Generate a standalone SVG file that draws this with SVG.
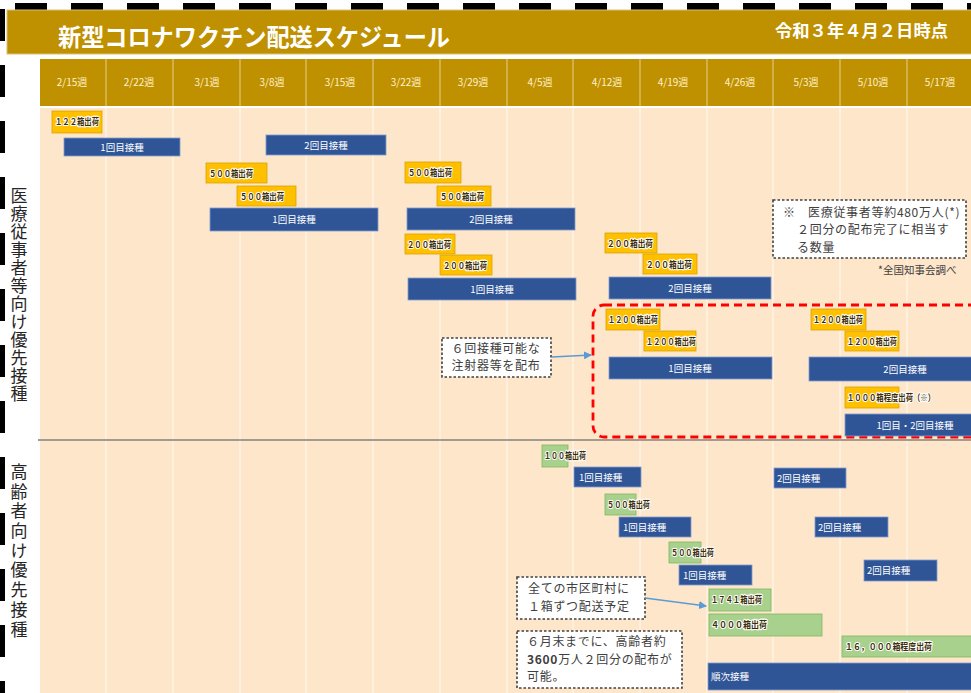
<svg xmlns="http://www.w3.org/2000/svg" width="971" height="693" viewBox="0 0 971 693">
<style>
text{font-family:"Noto Sans CJK JP","Noto Sans",sans-serif}
.b{fill:#2F5597;stroke:#7F9BD0;stroke-width:0.8}
.y{fill:#FFC000;stroke:#D9A400;stroke-width:0.8}
.g{fill:#A9D18E;stroke:#7FB85E;stroke-width:0.8}
.tb{font-size:9.5px;fill:#fff;text-anchor:middle}
.tbl{font-size:9.5px;fill:#fff}
.ty{font-size:9px;font-weight:bold;fill:#3A2C05;stroke:#fff;stroke-width:2.2px;paint-order:stroke;stroke-linejoin:round}
.hd{font-size:10px;fill:#FFF2CC;text-anchor:middle}
.note{fill:#fff;stroke:#404040;stroke-width:1.6;stroke-dasharray:2.5 2}
.nt{font-size:12px;fill:#404040;letter-spacing:0.7px}
.side{font-size:17px;fill:#262626;writing-mode:vertical-rl}
</style>
<defs>
<marker id="arr" markerWidth="8" markerHeight="8" refX="7" refY="4" orient="auto" markerUnits="userSpaceOnUse">
<path d="M0,0 L8,4 L0,8 z" fill="#5B9BD5"/>
</marker>
</defs>
<rect width="971" height="693" fill="#fff"/>
<g id="frame-dashes">
<line x1="15" y1="7" x2="971" y2="7" stroke="#000" stroke-width="8" stroke-dasharray="32 24"/>
<line x1="2.5" y1="9" x2="2.5" y2="693" stroke="#000" stroke-width="5" stroke-dasharray="32 24"/>
</g>
<g id="title">
<rect x="7" y="10" width="970" height="44" fill="#BF9000" stroke="#D9C27A" stroke-width="1"/>
<text x="58" y="46" font-size="24" font-weight="bold" fill="#fff" textLength="392" lengthAdjust="spacingAndGlyphs">新型コロナワクチン配送スケジュール</text>
<text x="775" y="37" font-size="17" font-weight="bold" fill="#fff" textLength="173" lengthAdjust="spacingAndGlyphs">令和３年４月２日時点</text>
</g>
<g id="header">
<rect x="40" y="59" width="931" height="47" fill="#BF9000"/>
<g stroke="#E6D08A" stroke-width="1">
<line x1="106" y1="59" x2="106" y2="106"/><line x1="173" y1="59" x2="173" y2="106"/><line x1="240" y1="59" x2="240" y2="106"/><line x1="306" y1="59" x2="306" y2="106"/><line x1="373" y1="59" x2="373" y2="106"/><line x1="440" y1="59" x2="440" y2="106"/><line x1="507" y1="59" x2="507" y2="106"/><line x1="573" y1="59" x2="573" y2="106"/><line x1="640" y1="59" x2="640" y2="106"/><line x1="707" y1="59" x2="707" y2="106"/><line x1="773" y1="59" x2="773" y2="106"/><line x1="840" y1="59" x2="840" y2="106"/><line x1="907" y1="59" x2="907" y2="106"/>
</g>
<text class="hd" x="72" y="86">2/15週</text><text class="hd" x="139" y="86">2/22週</text><text class="hd" x="207" y="86">3/1週</text><text class="hd" x="272" y="86">3/8週</text><text class="hd" x="340" y="86">3/15週</text><text class="hd" x="406" y="86">3/22週</text><text class="hd" x="473" y="86">3/29週</text><text class="hd" x="540" y="86">4/5週</text><text class="hd" x="607" y="86">4/12週</text><text class="hd" x="673" y="86">4/19週</text><text class="hd" x="740" y="86">4/26週</text><text class="hd" x="806" y="86">5/3週</text><text class="hd" x="873" y="86">5/10週</text><text class="hd" x="940" y="86">5/17週</text>
</g>
<g id="body">
<rect x="40" y="108" width="931" height="585" fill="#FEE6CB"/>
<g stroke="#FFF6EA" stroke-width="1.2">
<line x1="106" y1="108" x2="106" y2="693"/><line x1="173" y1="108" x2="173" y2="693"/><line x1="240" y1="108" x2="240" y2="693"/><line x1="306" y1="108" x2="306" y2="693"/><line x1="373" y1="108" x2="373" y2="693"/><line x1="440" y1="108" x2="440" y2="693"/><line x1="507" y1="108" x2="507" y2="693"/><line x1="573" y1="108" x2="573" y2="693"/><line x1="640" y1="108" x2="640" y2="693"/><line x1="707" y1="108" x2="707" y2="693"/><line x1="773" y1="108" x2="773" y2="693"/><line x1="840" y1="108" x2="840" y2="693"/><line x1="907" y1="108" x2="907" y2="693"/>
</g>
<line x1="38" y1="440" x2="971" y2="440" stroke="#A39A90" stroke-width="2"/>
</g>
<g id="label-medical">
<text class="side" x="19" y="187" letter-spacing="1">医療従事者等向け優先接種</text>
</g>
<g id="label-elderly">
<text class="side" x="19" y="463" letter-spacing="2.7">高齢者向け優先接種</text>
</g>
<g id="m1"><rect class="y" x="52" y="111" width="50" height="22"/><text class="ty" x="55" y="125" textLength="44" lengthAdjust="spacingAndGlyphs">１２２箱出荷</text></g>
<g id="m2"><rect class="b" x="64" y="138" width="116" height="18"/><text class="tb" x="122" y="150.5">1回目接種</text></g>
<g id="m3"><rect class="b" x="266" y="135" width="120" height="20"/><text class="tb" x="326" y="148.5">2回目接種</text></g>
<g id="m4"><rect class="y" x="206" y="163" width="61" height="20"/><text class="ty" x="209" y="176.5" textLength="44" lengthAdjust="spacingAndGlyphs">５００箱出荷</text></g>
<g id="m5"><rect class="y" x="237" y="186" width="59" height="20"/><text class="ty" x="240" y="199.5" textLength="44" lengthAdjust="spacingAndGlyphs">５００箱出荷</text></g>
<g id="m6"><rect class="b" x="210" y="208" width="168" height="23"/><text class="tb" x="294" y="223">1回目接種</text></g>
<g id="m7"><rect class="y" x="405" y="162" width="56" height="21"/><text class="ty" x="408" y="176" textLength="44" lengthAdjust="spacingAndGlyphs">５００箱出荷</text></g>
<g id="m8"><rect class="y" x="437" y="186" width="54" height="20"/><text class="ty" x="440" y="199.5" textLength="44" lengthAdjust="spacingAndGlyphs">５００箱出荷</text></g>
<g id="m9"><rect class="b" x="407" y="208" width="168" height="22"/><text class="tb" x="491" y="222.5">2回目接種</text></g>
<g id="m10"><rect class="y" x="405" y="234" width="50" height="20"/><text class="ty" x="407" y="247.5" textLength="44" lengthAdjust="spacingAndGlyphs">２００箱出荷</text></g>
<g id="m11"><rect class="y" x="440" y="255" width="52" height="20"/><text class="ty" x="443" y="268.5" textLength="44" lengthAdjust="spacingAndGlyphs">２００箱出荷</text></g>
<g id="m12"><rect class="b" x="408" y="278" width="168" height="22"/><text class="tb" x="492" y="292.5">1回目接種</text></g>
<g id="m13"><rect class="y" x="605" y="233" width="52" height="20"/><text class="ty" x="607" y="246.5" textLength="46" lengthAdjust="spacingAndGlyphs">２００箱出荷</text></g>
<g id="m14"><rect class="y" x="643" y="254" width="54" height="20"/><text class="ty" x="646" y="267.5" textLength="46" lengthAdjust="spacingAndGlyphs">２００箱出荷</text></g>
<g id="m15"><rect class="b" x="609" y="277" width="162" height="22"/><text class="tb" x="690" y="291.5">2回目接種</text></g>
<g id="note-480">
<rect class="note" x="773" y="200" width="193" height="58"/>
<text class="nt" x="783" y="216.5">※<tspan x="808">医療従事者等約480万人(*)</tspan><tspan x="797" dy="17.5">２回分の配布完了に相当す</tspan><tspan x="797" dy="17.5">る数量</tspan></text>
</g>
<g id="source"><text x="878" y="274" font-size="10.5" fill="#404040">*全国知事会調べ</text></g>
<g id="redbox"><rect x="593" y="305" width="400" height="132" rx="11" fill="none" stroke="#FF0000" stroke-width="2.8" stroke-dasharray="8 5"/></g>
<g id="r1"><rect class="y" x="606" y="309" width="54" height="21"/><text class="ty" x="608" y="323" textLength="50" lengthAdjust="spacingAndGlyphs">１２００箱出荷</text></g>
<g id="r2"><rect class="y" x="644" y="331" width="52" height="20"/><text class="ty" x="646" y="344.5" textLength="50" lengthAdjust="spacingAndGlyphs">１２００箱出荷</text></g>
<g id="r3"><rect class="b" x="609" y="357" width="163" height="22"/><text class="tb" x="690" y="371.5">1回目接種</text></g>
<g id="r4"><rect class="y" x="811" y="309" width="55" height="21"/><text class="ty" x="813" y="323" textLength="50" lengthAdjust="spacingAndGlyphs">１２００箱出荷</text></g>
<g id="r5"><rect class="y" x="845" y="331" width="54" height="20"/><text class="ty" x="847" y="344.5" textLength="50" lengthAdjust="spacingAndGlyphs">１２００箱出荷</text></g>
<g id="r6"><rect class="b" x="809" y="357" width="170" height="24"/><text class="tb" x="905" y="372.5">2回目接種</text></g>
<g id="r7"><rect class="y" x="845" y="387" width="54" height="21"/><text class="ty" x="847" y="401" textLength="88" lengthAdjust="spacingAndGlyphs">１０００箱程度出荷（※）</text></g>
<g id="r8"><rect class="b" x="845" y="414" width="130" height="22"/><text class="tb" x="915" y="428.5">1回目・2回目接種</text></g>
<g id="note-syringe">
<rect class="note" x="442" y="338" width="109" height="39"/>
<text class="nt" x="496" y="352.5" text-anchor="middle">６回接種可能な<tspan x="496" dy="17.5">注射器等を配布</tspan></text>
</g>
<g id="e1"><rect class="g" x="542" y="445" width="26" height="22"/><text class="ty" x="544" y="459" textLength="42" lengthAdjust="spacingAndGlyphs">１００箱出荷</text></g>
<g id="e2"><rect class="b" x="574" y="467" width="67" height="20"/><text class="tbl" x="579" y="480.5">1回目接種</text></g>
<g id="e3"><rect class="b" x="774" y="468" width="72" height="20"/><text class="tbl" x="777" y="481.5">2回目接種</text></g>
<g id="e4"><rect class="g" x="605" y="494" width="31" height="21"/><text class="ty" x="607" y="508" textLength="43" lengthAdjust="spacingAndGlyphs">５００箱出荷</text></g>
<g id="e5"><rect class="b" x="619" y="517" width="72" height="20"/><text class="tbl" x="623" y="530.5">1回目接種</text></g>
<g id="e6"><rect class="b" x="815" y="517" width="73" height="20"/><text class="tbl" x="818" y="530.5">2回目接種</text></g>
<g id="e7"><rect class="g" x="669" y="542" width="32" height="21"/><text class="ty" x="671" y="556" textLength="43" lengthAdjust="spacingAndGlyphs">５００箱出荷</text></g>
<g id="e8"><rect class="b" x="679" y="565" width="73" height="20"/><text class="tbl" x="683" y="578.5">1回目接種</text></g>
<g id="e9"><rect class="b" x="864" y="560" width="73" height="21"/><text class="tbl" x="867" y="574">2回目接種</text></g>
<g id="e10"><rect class="g" x="709" y="589" width="62" height="22"/><text class="ty" x="711" y="603" textLength="51" lengthAdjust="spacingAndGlyphs">１７４１箱出荷</text></g>
<g id="e11"><rect class="g" x="709" y="614" width="113" height="22"/><text class="ty" x="711" y="628" textLength="56" lengthAdjust="spacingAndGlyphs">４０００箱出荷</text></g>
<g id="e12"><rect class="g" x="842" y="636" width="135" height="21"/><text class="ty" x="845" y="650" textLength="87" lengthAdjust="spacingAndGlyphs">１６，０００箱程度出荷</text></g>
<g id="e13"><rect class="b" x="708" y="663" width="270" height="27"/><text class="tbl" x="711" y="680">順次接種</text></g>
<g id="note-city">
<rect class="note" x="517" y="577" width="128" height="42"/>
<text class="nt" x="528" y="593">全ての市区町村に<tspan x="528" dy="18">１箱ずつ配送予定</tspan></text>
</g>
<g id="note-elderly">
<rect class="note" x="517" y="631" width="165" height="57"/>
<text class="nt" x="527" y="646">６月末までに、高齢者約<tspan x="527" dy="17.5"><tspan font-weight="bold">3600</tspan>万人２回分の配布が</tspan><tspan x="527" dy="17.5">可能。</tspan></text>
</g>
<g id="connectors" fill="none" stroke="#5B9BD5" stroke-width="1.5">
<line x1="552" y1="357" x2="591" y2="355" marker-end="url(#arr)"/>
<line x1="645" y1="598" x2="706" y2="606" marker-end="url(#arr)"/>
</g>
</svg>
